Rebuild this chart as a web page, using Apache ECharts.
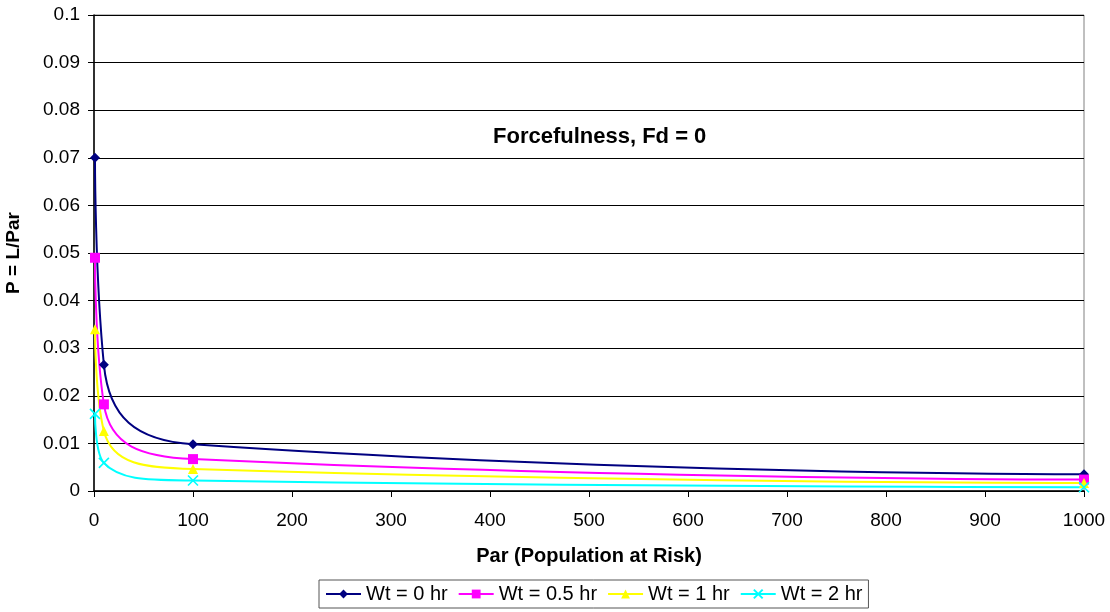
<!DOCTYPE html>
<html>
<head>
<meta charset="utf-8">
<script src="https://cdn.jsdelivr.net/npm/echarts@6/dist/echarts.min.js"></script>
<style>
  html, body { margin: 0; padding: 0; background: #fff; }
  #chart { width: 1110px; height: 612px; }
</style>
</head>
<body>
<div id="chart"></div>
<script>
// Population at risk (x) and loss-of-life ratio for each warning time
const par = [1, 10, 100, 1000];
const wt0 = [0.070, 0.0265, 0.0098, 0.0035];
const wt05 = [0.049, 0.0182, 0.0067, 0.0024];
const wt1 = [0.034, 0.0126, 0.0046, 0.0017];
const wt2 = [0.0162, 0.0059, 0.0022, 0.0008];
const seriesNames = ['Wt = 0 hr', 'Wt = 0.5 hr', 'Wt = 1 hr', 'Wt = 2 hr'];
const xTicks = [0, 100, 200, 300, 400, 500, 600, 700, 800, 900, 1000];
const yTicks = [0, 0.01, 0.02, 0.03, 0.04, 0.05, 0.06, 0.07, 0.08, 0.09, 0.1];

const FONT = '"Liberation Sans", Arial, sans-serif';
const crossPath = 'path://M0,0L10,10M10,0L0,10';

function pairs(ys) { return par.map((x, i) => [x, ys[i]]); }

function makeSeries(name, ys, color, symbol, size) {
  return {
    name: name,
    type: 'line',
    data: pairs(ys),
    smooth: 0.5,
    symbol: symbol,
    symbolSize: size,
    showAllSymbol: true,
    lineStyle: { color: color, width: 2 },
    itemStyle: symbol === crossPath
      ? { color: 'transparent', borderColor: color, borderWidth: 1.6 }
      : { color: color, borderWidth: 0 },
    emphasis: { disabled: true },
    z: 3
  };
}

const chart = echarts.init(document.getElementById('chart'), null, { renderer: 'canvas' });
chart.setOption({
  animation: false,
  backgroundColor: '#fff',
  textStyle: { fontFamily: FONT },
  grid: {
    left: 94, right: 26, top: 15, bottom: 121,
    containLabel: false, outerBoundsMode: 'none',
    show: true, borderColor: '#808080', borderWidth: 1, backgroundColor: 'transparent'
  },
  graphic: [{
    type: 'text',
    left: 493, top: 126,
    style: { text: 'Forcefulness, Fd = 0', font: 'bold 22px ' + FONT, fill: '#000' }
  }],
  legend: {
    data: seriesNames.map(n => ({ name: n })),
    left: 319, bottom: 4,
    itemGap: 10,
    itemWidth: 35, itemHeight: 11,
    padding: [4, 6, 4, 6],
    borderColor: '#555', borderWidth: 1,
    textStyle: { fontSize: 20, color: '#000', fontFamily: FONT }
  },
  xAxis: {
    type: 'value', min: 0, max: 1000, interval: 100,
    name: 'Par (Population at Risk)', nameLocation: 'middle', nameGap: 55,
    nameTextStyle: { fontSize: 20, fontWeight: 'bold', color: '#000', fontFamily: FONT },
    axisLine: { show: true, onZero: false, lineStyle: { color: '#000', width: 1.5 } },
    axisTick: { show: true, length: 6, inside: false, lineStyle: { color: '#000' } },
    axisLabel: {
      fontSize: 19, color: '#000', margin: 20, fontFamily: FONT,
      formatter: v => String(xTicks[Math.round(v / 100)])
    },
    splitLine: { show: false }
  },
  yAxis: {
    type: 'value', min: 0, max: 0.1, interval: 0.01,
    name: 'P = L/Par', nameLocation: 'middle', nameGap: 71, nameRotate: 90,
    nameTextStyle: { fontSize: 19, fontWeight: 'bold', color: '#000', fontFamily: FONT },
    axisLine: { show: true, onZero: false, lineStyle: { color: '#000', width: 1.5 } },
    axisTick: { show: true, length: 6, inside: false, lineStyle: { color: '#000' } },
    axisLabel: {
      fontSize: 19, color: '#000', margin: 14, fontFamily: FONT,
      formatter: v => String(yTicks[Math.round(v * 100)])
    },
    splitLine: { show: true, lineStyle: { color: '#000', width: 1 } }
  },
  series: [
    makeSeries(seriesNames[0], wt0, '#000080', 'diamond', 10),
    makeSeries(seriesNames[1], wt05, '#FF00FF', 'rect', 10),
    makeSeries(seriesNames[2], wt1, '#FFFF00', 'triangle', 10),
    makeSeries(seriesNames[3], wt2, '#00FFFF', crossPath, 10)
  ]
});
</script>
</body>
</html>
